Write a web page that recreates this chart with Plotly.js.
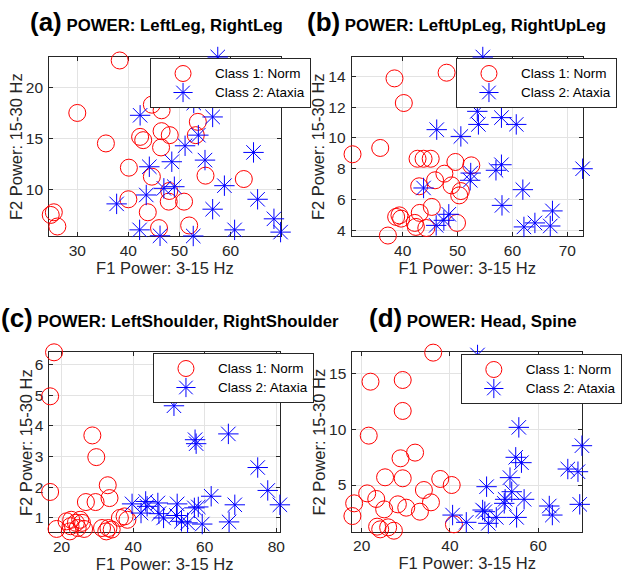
<!DOCTYPE html>
<html>
<head>
<meta charset="utf-8">
<script src="https://cdn.plot.ly/plotly-3.0.1.min.js"></script>
<style>html,body{margin:0;padding:0;background:#fff;}#chart{width:622px;height:578px;}</style>
</head>
<body>
<div id="chart"></div>
<script>
// ---------- data ----------
const legendNames = ['Class 1: Norm', 'Class 2: Ataxia'];
const panelTitles = ['POWER: LeftLeg, RightLeg', 'POWER: LeftUpLeg, RightUpLeg', 'POWER: LeftShoulder, RightShoulder', 'POWER: Head, Spine'];
const panelTags = ['(a)', '(b)', '(c)', '(d)'];
const xTitle = 'F1 Power: 3-15 Hz';
const yTitle = 'F2 Power: 15-30 Hz';

// (a) LeftLeg, RightLeg
const aNormX = [38.3, 30.0, 35.6, 24.8, 25.4, 26.1, 40.1, 40.0, 44.6, 46.5, 42.3, 42.9, 46.5, 48.1, 46.4, 44.6, 43.8, 48.0, 47.9, 46.0, 50.9, 51.9, 53.6, 53.2, 55.1, 62.6];
const aNormY = [22.66, 17.53, 14.55, 7.56, 7.82, 6.43, 12.18, 9.09, 18.34, 17.79, 15.19, 14.87, 15.75, 15.36, 14.16, 11.30, 7.82, 9.90, 8.86, 6.27, 8.86, 6.53, 16.66, 15.36, 11.40, 11.07];
const aAtaxX = [57.5, 52.8, 42.3, 56.5, 53.7, 51.1, 64.5, 44.1, 48.5, 55.0, 46.95, 49.0, 58.8, 37.7, 43.5, 65.3, 56.5, 68.5, 42.2, 46.2, 52.7, 60.8, 69.8];
const aAtaxY = [23.0, 18.5, 17.3, 17.14, 15.36, 14.32, 13.67, 12.27, 12.76, 12.92, 10.16, 10.32, 10.42, 8.64, 9.51, 9.09, 8.12, 7.18, 6.1, 5.52, 5.5, 6.1, 5.88];

// (b) LeftUpLeg, RightUpLeg
const bNormX = [30.85, 35.9, 38.5, 40.2, 48.0, 42.7, 43.8, 45.1, 49.6, 52.5, 45.9, 47.6, 48.9, 50.6, 50.3, 43.0, 45.3, 43.1, 39.4, 39.7, 38.8, 42.2, 42.4, 44.3, 49.9, 37.3];
const bNormY = [8.94, 9.35, 13.87, 12.27, 14.24, 8.65, 8.65, 8.65, 8.44, 8.22, 7.25, 7.68, 6.92, 6.55, 6.27, 6.86, 5.52, 5.13, 4.97, 4.76, 4.87, 4.48, 4.22, 4.15, 4.48, 3.66];
const bAtaxX = [54.6, 53.6, 53.8, 58.0, 60.7, 46.2, 50.6, 72.8, 52.4, 52.3, 57.0, 58.0, 61.9, 43.8, 58.1, 48.4, 47.5, 46.1, 62.1, 64.1, 66.9, 67.3];
const bAtaxY = [15.26, 11.73, 10.88, 11.32, 10.88, 10.54, 10.1, 8.0, 7.72, 7.25, 7.9, 8.26, 6.64, 6.75, 5.62, 5.04, 4.65, 4.32, 4.22, 4.48, 4.28, 5.26];

// (c) LeftShoulder, RightShoulder
const cNormX = [17.9, 16.8, 16.8, 28.6, 29.7, 32.9, 33.4, 26.8, 29.5, 18.6, 21.4, 22.7, 22.5, 22.3, 24.0, 25.2, 25.7, 26.3, 24.5, 31.3, 33.1, 34.0, 32.5, 36.3, 38.4, 37.6];
const cNormY = [6.41, 4.97, 1.84, 3.69, 2.98, 2.06, 1.64, 1.51, 1.51, 0.63, 0.88, 0.93, 0.72, 0.55, 0.83, 0.93, 0.83, 0.63, 0.66, 0.66, 0.66, 0.61, 0.55, 0.99, 0.93, 1.04];
const cAtaxX = [51.4, 57.3, 57.6, 66.6, 74.8, 77.6, 81.0, 68.4, 61.8, 58.2, 57.1, 52.3, 39.7, 42.2, 43.5, 43.9, 46.9, 47.2, 48.5, 52.1, 53.5, 55.2, 59.3, 66.8];
const cAtaxY = [4.66, 3.55, 3.42, 3.74, 2.64, 1.89, 1.42, 1.42, 1.70, 1.35, 1.32, 1.45, 1.45, 1.15, 1.53, 1.37, 1.48, 1.13, 0.99, 1.07, 0.88, 0.83, 0.79, 0.86];

// (d) Head, Spine
const dNormX = [36.2, 22.0, 29.3, 29.3, 21.6, 28.8, 32.1, 25.3, 29.3, 37.8, 40.4, 21.25, 23.3, 34.1, 35.7, 28.2, 30.1, 25.1, 33.2, 18.3, 17.9, 23.5, 24.2, 26.0, 27.3, 40.9];
const dNormY = [16.85, 14.25, 14.4, 11.63, 9.42, 7.39, 7.9, 5.69, 5.6, 5.54, 5.0, 4.25, 3.75, 4.55, 3.45, 3.27, 2.97, 2.82, 2.61, 3.36, 2.22, 1.27, 1.03, 1.21, 0.91, 1.48];
const dAtaxX = [46.25, 55.6, 54.9, 56.2, 69.9, 66.7, 69.0, 48.3, 53.6, 54.0, 52.5, 52.3, 56.8, 62.5, 63.2, 69.4, 40.6, 43.7, 47.4, 47.9, 48.7, 50.5, 55.1];
const dAtaxY = [16.64, 10.16, 7.48, 7.0, 8.52, 6.43, 6.19, 4.85, 5.66, 4.4, 3.72, 3.36, 3.72, 3.12, 2.31, 3.27, 2.31, 1.66, 2.76, 2.61, 1.57, 2.1, 2.1];

// tick values
const aXTicks = [30, 40, 50, 60], aYTicks = [10, 15, 20];
const bXTicks = [40, 50, 60, 70], bYTicks = [4, 6, 8, 10, 12, 14];
const cXTicks = [20, 40, 60, 80], cYTicks = [1, 2, 3, 4, 5, 6];
const dXTicks = [20, 40, 60], dYTicks = [5, 10, 15];

// ---------- styling ----------
const FONT = 'Liberation Sans, Arial, Helvetica, sans-serif';
const INK = '#262626';
const W = 622, H = 578;

const panels = [
  {nx: aNormX, ny: aNormY, ax: aAtaxX, ay: aAtaxY, xt: aXTicks, yt: aYTicks, xr: [24.5, 69.8], yr: [5.5, 23.0],
   box: [50.5, 288, 57, 236], leg: [154, 58], title: [160.5, 22.5], ytx: 16},
  {nx: bNormX, ny: bNormY, ax: bAtaxX, ay: bAtaxY, xt: bXTicks, yt: bYTicks, xr: [30.7, 72.8], yr: [3.63, 15.26],
   box: [361, 598, 57, 236], leg: [468, 58], title: [468.8, 22.5], ytx: 326},
  {nx: cNormX, ny: cNormY, ax: cAtaxX, ay: cAtaxY, xt: cXTicks, yt: cYTicks, xr: [16.6, 81.0], yr: [0.53, 6.41],
   box: [50.7, 287.3, 352.3, 532], leg: [157, 353], title: [175, 318], ytx: 26.5},
  {nx: dNormX, ny: dNormY, ax: dAtaxX, ay: dAtaxY, xt: dXTicks, yt: dYTicks, xr: [17.9, 69.9], yr: [0.82, 16.88],
   box: [361.7, 597.3, 352.3, 531.7], leg: [473, 354], title: [485.5, 318], ytx: 327}
];

const traces = [];
const layout = {
  width: W, height: H,
  margin: {l: 0, r: 0, t: 0, b: 0},
  paper_bgcolor: '#fff', plot_bgcolor: '#fff',
  font: {family: FONT, color: INK, size: 15},
  annotations: [],
  showlegend: true
};

const legSpan = s => '<span style="font-size:13.5px">' + s + '</span>';

panels.forEach((p, i) => {
  const n = i === 0 ? '' : String(i + 1);
  const legKey = i === 0 ? 'legend' : 'legend' + (i + 1);
  const xa = 'x' + n, ya = 'y' + n;
  traces.push({
    type: 'scatter', mode: 'markers', x: p.nx, y: p.ny, xaxis: xa, yaxis: ya,
    name: legSpan(legendNames[0]), legend: legKey, cliponaxis: false,
    marker: {symbol: 'circle-open', size: 17, color: '#ff0000', line: {width: 1, color: '#ff0000'}}
  });
  traces.push({
    type: 'scatter', mode: 'markers', x: p.ax, y: p.ay, xaxis: xa, yaxis: ya,
    name: legSpan(legendNames[1]), legend: legKey, cliponaxis: false,
    marker: {symbol: 'asterisk-open', size: 17, color: '#0000ff', line: {width: 1, color: '#0000ff'}}
  });
  const common = {
    showline: true, linecolor: INK, linewidth: 1, mirror: 'ticks',
    ticks: 'inside', ticklen: 4, tickcolor: INK, layer: 'below traces',
    showgrid: true, gridcolor: '#e3e3e3', gridwidth: 1, zeroline: false,
    tickfont: {family: FONT, size: 15.5, color: INK}
  };
  layout['xaxis' + n] = Object.assign({}, common, {
    domain: [p.box[0] / W, p.box[1] / W], anchor: ya, range: p.xr,
    tickmode: 'array', tickvals: p.xt,
    title: {text: xTitle, font: {family: FONT, size: 16.5, color: INK}, standoff: 4}
  });
  layout['yaxis' + n] = Object.assign({}, common, {
    domain: [1 - p.box[3] / H, 1 - p.box[2] / H], anchor: xa, range: p.yr,
    tickmode: 'array', tickvals: p.yt, ticklabelstandoff: 2
  });
  layout[legKey] = {
    x: p.leg[0] / W, y: 1 - p.leg[1] / H, xanchor: 'left', yanchor: 'top',
    xref: 'paper', yref: 'paper',
    bgcolor: '#fff', bordercolor: INK, borderwidth: 1,
    font: {family: FONT, size: 11, color: '#000'},
    itemwidth: 54, itemsizing: 'trace', tracegroupgap: 0
  };
  // panel title
  layout.annotations.push({
    xref: 'paper', yref: 'paper', x: p.title[0] / W, y: 1 - p.title[1] / H,
    xanchor: 'center', yanchor: 'middle', showarrow: false,
    text: '<b><span style="font-size:26px">' + panelTags[i] + '</span> ' + panelTitles[i] + '</b>',
    font: {family: FONT, size: 16.8, color: '#000'}
  });
  // y-axis title
  layout.annotations.push({
    xref: 'paper', yref: 'paper', x: p.ytx / W, y: 1 - (p.box[2] + p.box[3]) / 2 / H,
    xanchor: 'center', yanchor: 'middle', showarrow: false, textangle: -90,
    text: yTitle, font: {family: FONT, size: 16.5, color: INK}
  });
});

Plotly.newPlot('chart', traces, layout, {displayModeBar: false, staticPlot: true});
</script>
</body>
</html>
